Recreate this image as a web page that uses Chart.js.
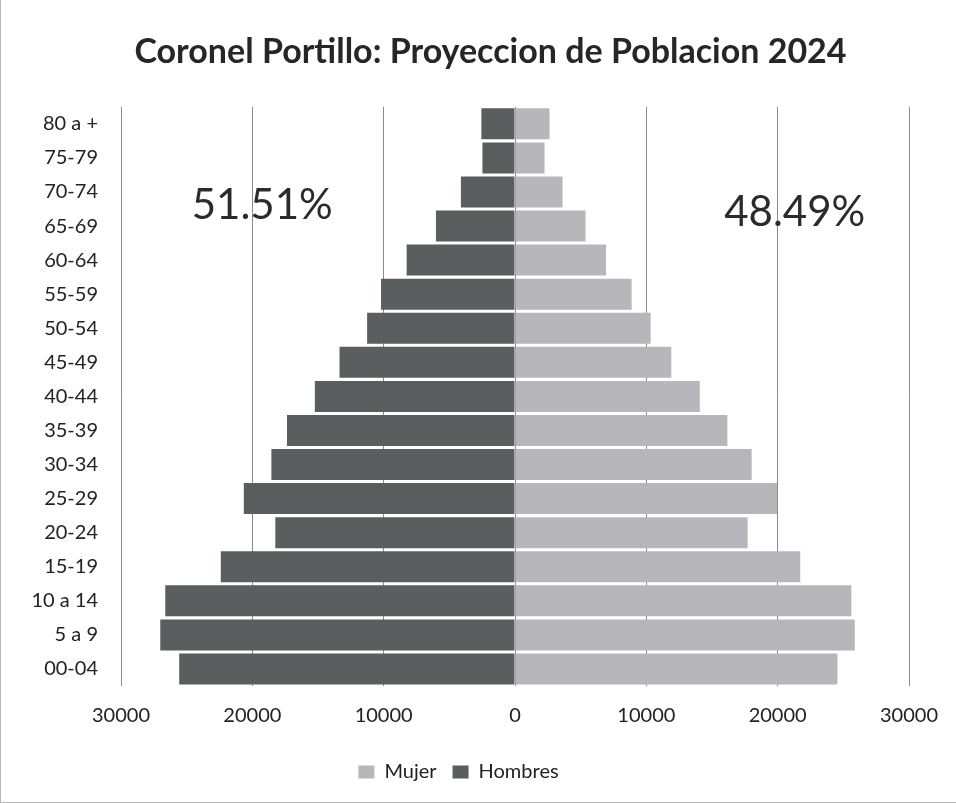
<!DOCTYPE html>
<html>
<head>
<meta charset="utf-8">
<script src="https://cdn.jsdelivr.net/npm/chart.js@4"></script>
<style>
    html, body { margin: 0; padding: 0; background: #fff; }
    #wrap { width: 956px; height: 803px; position: relative; box-sizing: border-box; border-left: 1px solid #b5b5b5; border-bottom: 1px solid #b5b5b5; }
</style>
</head>
<body>
<div id="wrap"><canvas id="piramide"></canvas></div>
<script>
// Grupos de edad (de arriba hacia abajo, como en la imagen)
const grupos = ['80 a +', '75-79', '70-74', '65-69', '60-64', '55-59', '50-54', '45-49',
    '40-44', '35-39', '30-34', '25-29', '20-24', '15-19', '10 a 14', '5 a 9', '00-04'];

// Poblacion estimada por grupo
const mujeres = [2630, 2250, 3620, 5370, 6930, 8880, 10330, 11900,
    14070, 16170, 18020, 19950, 17710, 21720, 25610, 25870, 24550];
const hombres = [2560, 2480, 4120, 6020, 8250, 10200, 11260, 13360,
    15240, 17360, 18550, 20650, 18250, 22400, 26630, 27010, 25570];

// Etiquetas de porcentaje
const porcentajes = ['51.51%', '48.49%'];

const titulo = 'Coronel Portillo: Proyeccion de Poblacion 2024';
const fuente = 'Lato, "Open Sans", sans-serif';

// Fondo blanco, titulo (un poco desplazado como en el original) y porcentajes
const extras = {
    id: 'extras',
    beforeDraw(chart) {
        const ctx = chart.ctx;
        ctx.save();
        ctx.fillStyle = '#fff';
        ctx.fillRect(0, 0, chart.width, chart.height);
        ctx.restore();
    },
    afterDatasetsDraw(chart) {
        const ctx = chart.ctx;
        const x = chart.scales.x;
        const y = chart.scales.y;
        ctx.save();
        ctx.font = '42px ' + fuente;
        ctx.fillStyle = '#2b2b2b';
        ctx.textAlign = 'center';
        ctx.textBaseline = 'middle';
        ctx.fillText(porcentajes[0], x.getPixelForValue(-19250), y.getPixelForValue(2.4));
        ctx.fillText(porcentajes[1], x.getPixelForValue(21300), y.getPixelForValue(2.6));

        ctx.font = 'bold 34px ' + fuente;
        ctx.fillStyle = '#262626';
        ctx.textBaseline = 'alphabetic';
        ctx.fillText(titulo, chart.width / 2 + 12, 63);
        ctx.restore();
    }
};

new Chart(document.getElementById('piramide'), {
    type: 'bar',
    data: {
        labels: grupos,
        datasets: [
            {
                label: 'Mujer',
                data: mujeres,
                backgroundColor: '#b7b7bb',
                borderWidth: 0,
                barPercentage: 0.91,
                categoryPercentage: 1.0,
            },
            {
                label: 'Hombres',
                data: hombres.map(v => -v), // a la izquierda
                backgroundColor: '#5a5e5e',
                borderWidth: 0,
                barPercentage: 0.91,
                categoryPercentage: 1.0,
            },
        ],
    },
    plugins: [extras],
    options: {
        indexAxis: 'y',
        responsive: true,
        maintainAspectRatio: false,
        animation: false,
        layout: {
            padding: { top: 20, right: 40, bottom: 10, left: 0 },
        },
        scales: {
            x: {
                stacked: true,
                min: -30000,
                max: 30000,
                ticks: {
                    stepSize: 10000,
                    color: '#222',
                    font: { family: fuente, size: 20 },
                    padding: 18,
                    callback: v => Math.abs(v),
                },
                grid: { color: '#8a8a8a', lineWidth: 1, drawTicks: false },
                border: { display: false },
            },
            y: {
                stacked: true,
                ticks: {
                    color: '#222',
                    font: { family: fuente, size: 20 },
                    padding: 15,
                },
                grid: { display: false },
                border: { display: false },
                afterFit(scale) {
                    scale.width = 120;
                },
            },
        },
        plugins: {
            // el titulo solo reserva el espacio; se dibuja en el plugin
            title: {
                display: true,
                text: titulo,
                color: 'rgba(0,0,0,0)',
                font: { family: fuente, size: 34, weight: 'bold' },
                padding: { top: 16, bottom: 30 },
            },
            legend: {
                position: 'bottom',
                labels: {
                    color: '#222',
                    font: { family: fuente, size: 20 },
                    boxWidth: 16,
                    boxHeight: 13,
                    padding: 16,
                },
            },
            tooltip: { enabled: false },
        },
    },
});
</script>
</body>
</html>
